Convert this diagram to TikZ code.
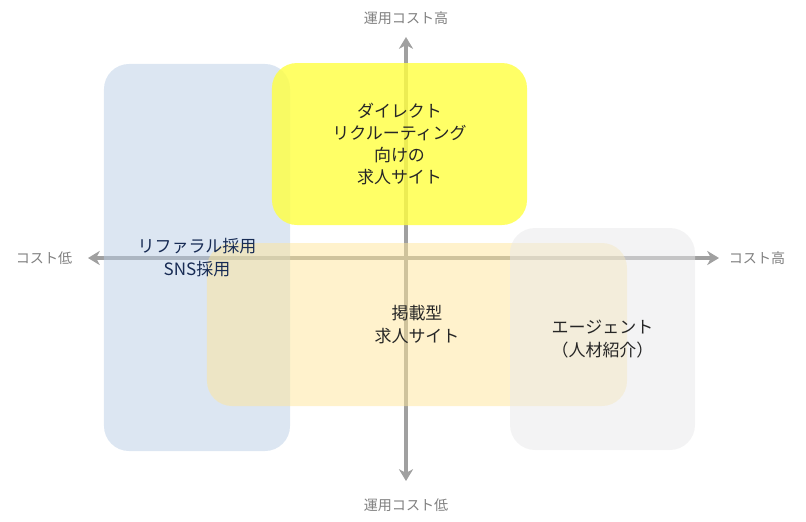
\documentclass[tikz,border=0pt]{standalone}
\usepackage{fontspec}
\setmainfont{Noto Sans CJK JP}
\usepackage{tikz}
\usetikzlibrary{positioning}
\usetikzlibrary{backgrounds}
\usetikzlibrary{arrows.meta}
\definecolor{axisgray}{RGB}{160,160,160}
\definecolor{labelgray}{RGB}{128,128,128}
\definecolor{zoneblue}{RGB}{185,205,229}
\definecolor{zoneyellow}{RGB}{255,255,64}
\definecolor{zonebeige}{RGB}{255,230,153}
\definecolor{zonegray}{RGB}{232,232,234}
\definecolor{navytext}{RGB}{23,43,84}
\definecolor{darktext}{RGB}{38,38,38}
\tikzset{every picture/.style={line width=1pt},
zone/.style={rounded corners=0.75cm,fill opacity=0.5,inner sep=0pt},
axis/.style={draw=axisgray,line width=3pt,{Stealth[length=10pt,width=12pt,inset=3pt]}-{Stealth[length=10pt,width=12pt,inset=3pt]}},
axislabel/.style={text=labelgray,font=\fontsize{12}{14}\selectfont},
zonetext/.style={align=center,text=darktext,font=\fontsize{14.5}{19}\selectfont}}

\begin{document}
\begin{tikzpicture}[x=0.03cm,y=-0.03cm]
\useasboundingbox (0,0) rectangle (806,521);
\coordinate (north) at (406,37);
\coordinate (south) at (406,481);
\coordinate (west) at (88,258);
\coordinate (east) at (719,258);
\draw[axis] (south) -- (north);
\draw[axis] (west) -- (east);
\node[axislabel] (opshigh) at (406,18) {運用コスト高};
\node[axislabel] (opslow) at (406,505) {運用コスト低};
\node[axislabel] (costlow) at (44,258) {コスト低};
\node[axislabel] (costhigh) at (757,258) {コスト高};
% zones
\node[zone,fill=zoneblue,minimum width=5.58cm,minimum height=11.61cm] (bluezone) at (197,257.5) {};
\node[zone,fill=zoneyellow,fill opacity=0.8,minimum width=7.65cm,minimum height=4.86cm] (yellowzone) at (399.5,144) {};
\node[zone,fill=zonebeige,minimum width=12.6cm,minimum height=4.89cm] (beigezone) at (417,324.5) {};
\node[zone,fill=zonegray,minimum width=5.55cm,minimum height=6.66cm] (grayzone) at (602.5,339) {};
% texts
\node[zonetext,text=navytext] (referral) at (bluezone) {リファラル採用\\SNS採用};
\node[zonetext] (direct) at (yellowzone) {ダイレクト\\リクルーティング\\向けの\\求人サイト};
\node[zonetext] (listing) at (beigezone) {掲載型\\求人サイト};
\node[zonetext] (agent) at (grayzone) {エージェント\\（人材紹介）};
\end{tikzpicture}
\end{document}
